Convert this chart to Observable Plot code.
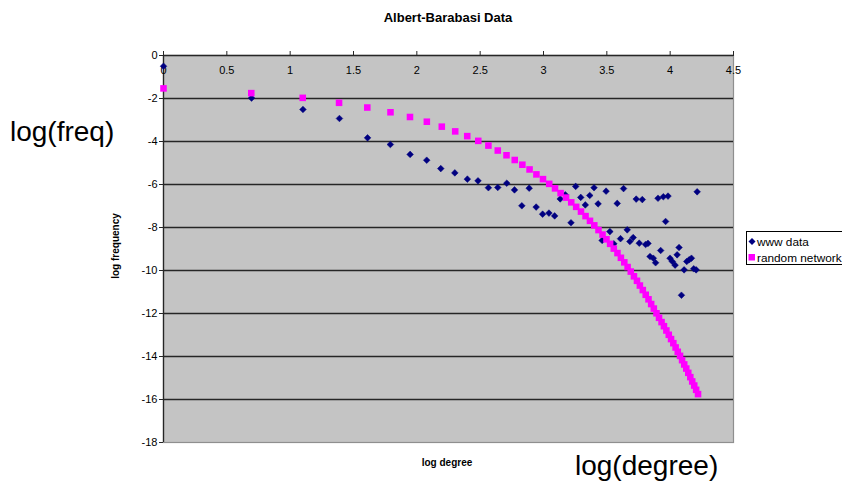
<!DOCTYPE html>
<html><head><meta charset="utf-8">
<script src="https://cdn.jsdelivr.net/npm/d3@7"></script>
<script src="https://cdn.jsdelivr.net/npm/@observablehq/plot@0.6"></script>
<style>
html,body{margin:0;padding:0;background:#fff;overflow:hidden;}
#wrap{position:relative;width:842px;height:481px;overflow:hidden;}
#chart{position:absolute;left:0;top:0;}
#over{position:absolute;left:0;top:0;}
</style></head><body>
<div id="wrap"><div id="chart"></div>
<svg id="over" width="842" height="481" font-family="Liberation Sans, Arial, sans-serif"></svg>
</div>
<script>
// ---- data ----
const chartTitle = "Albert-Barabasi Data";
const xAxisTitle = "log degree";
const yAxisTitle = "log frequency";
const seriesNames = ["www data", "random network"];
const bigLabels = ["log(freq)", "log(degree)"];

const xTicks = [0, 0.5, 1, 1.5, 2, 2.5, 3, 3.5, 4, 4.5];
const xTickLabels = ["0", "0.5", "1", "1.5", "2", "2.5", "3", "3.5", "4", "4.5"];
const yTicks = [0, -2, -4, -6, -8, -10, -12, -14, -16, -18];
const yTickLabels = ["0", "-2", "-4", "-6", "-8", "-10", "-12", "-14", "-16", "-18"];

const wwwX = [0.000, 0.695, 1.101, 1.389, 1.611, 1.791, 1.947, 2.078, 2.189, 2.300,
  2.399, 2.483, 2.565, 2.639, 2.710, 2.771, 2.829, 2.887, 2.942, 2.993,
  3.043, 3.088, 3.132, 3.172, 3.217, 3.254, 3.294, 3.330, 3.365, 3.399,
  3.431, 3.463, 3.494, 3.524, 3.555, 3.582, 3.608, 3.632, 3.661, 3.682,
  3.708, 3.732, 3.756, 3.780, 3.806, 3.825, 3.841, 3.867, 3.885, 3.904,
  3.925, 3.946, 3.964, 3.983, 3.999, 4.017, 4.039, 4.055, 4.070, 4.089,
  4.110, 4.131, 4.150, 4.168, 4.186, 4.205, 4.213];
const wwwY = [-0.50, -1.98, -2.51, -2.93, -3.83, -4.14, -4.60, -4.87, -5.26, -5.46,
  -5.75, -5.83, -6.15, -6.14, -5.94, -6.25, -6.99, -6.17, -7.05, -7.38,
  -7.33, -7.46, -6.67, -6.48, -7.78, -6.09, -6.60, -6.95, -6.51, -6.15,
  -6.90, -8.60, -6.31, -8.19, -8.76, -6.88, -8.52, -6.19, -8.11, -8.65,
  -8.47, -6.68, -8.73, -6.70, -8.79, -8.74, -9.35, -9.43, -9.64, -6.64,
  -9.07, -6.57, -7.72, -6.54, -9.43, -9.58, -9.75, -9.27, -8.93, -11.15,
  -9.97, -9.58, -9.50, -9.43, -9.92, -9.97, -6.34];

const randX = [0.000, 0.693, 1.099, 1.386, 1.609, 1.792, 1.946, 2.079, 2.197, 2.303,
  2.398, 2.485, 2.565, 2.639, 2.708, 2.773, 2.833, 2.890, 2.944, 2.996,
  3.045, 3.091, 3.135, 3.178, 3.219, 3.258, 3.296, 3.332, 3.367, 3.401,
  3.434, 3.466, 3.497, 3.526, 3.555, 3.584, 3.611, 3.638, 3.664, 3.689,
  3.714, 3.738, 3.761, 3.784, 3.807, 3.829, 3.850, 3.871, 3.892, 3.912,
  3.932, 3.951, 3.970, 3.989, 4.007, 4.025, 4.043, 4.060, 4.078, 4.094,
  4.111, 4.127, 4.143, 4.159, 4.174, 4.190, 4.205, 4.220];
const randY = [-1.53, -1.75, -1.97, -2.20, -2.42, -2.64, -2.86, -3.08, -3.31, -3.53,
  -3.75, -3.97, -4.19, -4.42, -4.64, -4.86, -5.08, -5.30, -5.53, -5.75,
  -5.97, -6.18, -6.40, -6.61, -6.83, -7.04, -7.26, -7.47, -7.69, -7.90,
  -8.12, -8.33, -8.55, -8.76, -8.98, -9.19, -9.41, -9.62, -9.84, -10.05,
  -10.27, -10.48, -10.70, -10.91, -11.13, -11.34, -11.56, -11.77, -11.99, -12.20,
  -12.40, -12.59, -12.79, -12.99, -13.19, -13.38, -13.58, -13.78, -13.97, -14.17,
  -14.37, -14.56, -14.76, -14.96, -15.16, -15.35, -15.55, -15.75];

const colors = ["#000080", "#ff00ff"];

// ---- build ----
const www = wwwX.map((x, i) => ({x, y: wwwY[i]}));
const rand = randX.map((x, i) => ({x, y: randY[i]}));
const xt = xTicks.map((v, i) => ({v, label: xTickLabels[i]}));
const font = "Liberation Sans, Arial, sans-serif";

const plot = Plot.plot({
  width: 842, height: 481,
  marginLeft: 163, marginRight: 109, marginTop: 55, marginBottom: 39,
  x: {domain: [0, 4.5]},
  y: {domain: [-18, 0]},
  style: {fontFamily: font, fontSize: "11px", background: "transparent", color: "#000"},
  marks: [
    Plot.frame({fill: "#c4c4c4", stroke: "#8f8f8f", strokeWidth: 1.2}),
    Plot.ruleY(yTicks.filter(v => v !== 0 && v !== -18), {y: d => d, stroke: "#262626", strokeWidth: 1.3}),
    Plot.ruleY([0], {y: d => d, stroke: "#262626", strokeWidth: 1.3}),
    Plot.ruleX([0], {x: d => d, stroke: "#262626", strokeWidth: 1.3}),
    Plot.axisX({anchor: "top", ticks: xTicks, tickSize: 5, tickFormat: () => "", label: null, stroke: "#262626"}),
    Plot.text(xt, {x: "v", y: () => 0, text: "label", dy: 15, fontSize: 11, fill: "#000"}),
    Plot.axisY({anchor: "left", ticks: yTicks, tickSize: 4, tickPadding: 2, label: null,
      tickFormat: d => yTickLabels[yTicks.indexOf(d)], fontSize: 11, stroke: "#262626"}),
    Plot.dot(www, {x: "x", y: "y", symbol: "diamond2", r: 3, fill: colors[0], stroke: colors[0], strokeWidth: 0.5}),
    Plot.dot(rand, {x: "x", y: "y", symbol: "square", r: 3.7, fill: colors[1]})
  ]
});
document.getElementById("chart").appendChild(plot);

// ---- overlay text & legend ----
const ns = "http://www.w3.org/2000/svg";
const over = document.getElementById("over");
function txt(x, y, s, attrs) {
  const t = document.createElementNS(ns, "text");
  t.setAttribute("x", x); t.setAttribute("y", y);
  for (const k in attrs) t.setAttribute(k, attrs[k]);
  t.textContent = s; over.appendChild(t); return t;
}
txt(448, 22, chartTitle, {"text-anchor": "middle", "font-size": 13, "font-weight": "bold"});
txt(0, 0, yAxisTitle, {"text-anchor": "middle", "font-size": 10, "font-weight": "bold", transform: "translate(119,246) rotate(-90)"});
txt(447, 466, xAxisTitle, {"text-anchor": "middle", "font-size": 10, "font-weight": "bold"});
txt(10, 141, bigLabels[0], {"font-size": 28});
txt(575, 475, bigLabels[1], {"font-size": 28});

// legend
const box = document.createElementNS(ns, "rect");
box.setAttribute("x", 746.5); box.setAttribute("y", 231.5);
box.setAttribute("width", 120); box.setAttribute("height", 33);
box.setAttribute("fill", "#fff"); box.setAttribute("stroke", "#000");
over.appendChild(box);
const dia = document.createElementNS(ns, "path");
dia.setAttribute("d", "M752,238 L755.5,241.5 L752,245 L748.5,241.5 Z");
dia.setAttribute("fill", colors[0]); over.appendChild(dia);
const sq = document.createElementNS(ns, "rect");
sq.setAttribute("x", 748.5); sq.setAttribute("y", 254); sq.setAttribute("width", 6.5); sq.setAttribute("height", 6.5);
sq.setAttribute("fill", colors[1]); over.appendChild(sq);
txt(757, 245.5, seriesNames[0], {"font-size": 11.8});
txt(757, 261.5, seriesNames[1], {"font-size": 11.8});
</script>
</body></html>
